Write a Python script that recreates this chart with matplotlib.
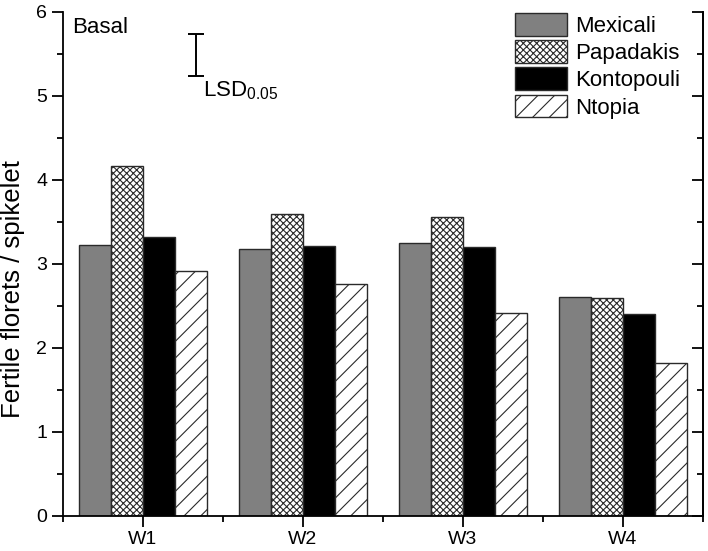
import matplotlib.pyplot as plt
import numpy as np

plt.rcParams['font.family'] = ['Liberation Sans', 'DejaVu Sans']
plt.rcParams['hatch.linewidth'] = 0.8
plt.rcParams['mathtext.default'] = 'regular'

# số liệu
weeks = ['W1', 'W2', 'W3', 'W4']
cultivars = ['Mexicali', 'Papadakis', 'Kontopouli', 'Ntopia']
mexicali = [3.23, 3.18, 3.25, 2.61]
papadakis = [4.17, 3.60, 3.56, 2.59]
kontopouli = [3.32, 3.21, 3.20, 2.40]
ntopia = [2.92, 2.76, 2.42, 1.82]
lsd_low, lsd_high = 5.24, 5.74

values = [mexicali, papadakis, kontopouli, ntopia]
faces = ['#808080', 'white', 'black', 'white']
hatches = [None, 'xxxxx', None, '//']

fig = plt.figure(figsize=(7.08, 5.51), dpi=100)
ax = fig.add_axes([63 / 708, 35 / 551, 640 / 708, 504 / 551])

x = np.arange(1, len(weeks) + 1)
w = 0.2
for i, (vals, fc, h, name) in enumerate(zip(values, faces, hatches, cultivars)):
    ax.bar(x + (i - 1.5) * w, vals, width=w, color=fc, hatch=h,
           edgecolor='#2a2a2a', linewidth=1.0, label=name)

ax.set_xlim(0.5, 4.5)
ax.set_ylim(0, 6)
ax.set_xticks(x)
ax.set_xticklabels(weeks)
ax.set_xticks(np.arange(0.5, 4.6, 1.0), minor=True)
ax.set_yticks(range(0, 7))
ax.set_yticks(np.arange(0.5, 6, 1.0), minor=True)
ax.spines['top'].set_visible(False)
for s in ['left', 'bottom', 'right']:
    ax.spines[s].set_linewidth(1.3)
ax.tick_params(axis='both', which='major', labelsize=14, length=8, width=1.3, direction='out')
ax.tick_params(axis='both', which='minor', length=4.5, width=1.3, direction='out')
ax.tick_params(axis='x', which='major', pad=3)

# trục phải có vạch chia hướng vào trong
ax2 = ax.twinx()
ax2.set_ylim(0, 6)
ax2.set_yticks(range(0, 7))
ax2.set_yticks(np.arange(0.5, 6, 1.0), minor=True)
ax2.tick_params(axis='y', which='major', length=8, width=1.3, direction='in', labelright=False)
ax2.tick_params(axis='y', which='minor', length=4.5, width=1.3, direction='in')
for s in ['top', 'left', 'bottom']:
    ax2.spines[s].set_visible(False)
ax2.spines['right'].set_linewidth(1.3)

ax.set_ylabel('Fertile florets / spikelet', fontsize=18.5)
ax.yaxis.set_label_coords(-0.059, 0.45)

ax.text(0.556, 5.75, 'Basal', fontsize=16, va='baseline', ha='left')
ax.errorbar([1.33], [(lsd_low + lsd_high) / 2], yerr=[(lsd_high - lsd_low) / 2],
            fmt='none', ecolor='black', elinewidth=1.4, capsize=5.5, capthick=1.4)
ax.text(1.375, 5.0, r'$\mathregular{LSD_{0.05}}$', fontsize=16, va='baseline', ha='left')

ax.legend(loc='upper left', bbox_to_anchor=(515 / 708, 538 / 551),
          bbox_transform=fig.transFigure, frameon=False, fontsize=16,
          handlelength=2.35, handleheight=1.2, labelspacing=0.15,
          handletextpad=0.35, borderpad=0, borderaxespad=0)

plt.savefig('out.png', dpi=100)
